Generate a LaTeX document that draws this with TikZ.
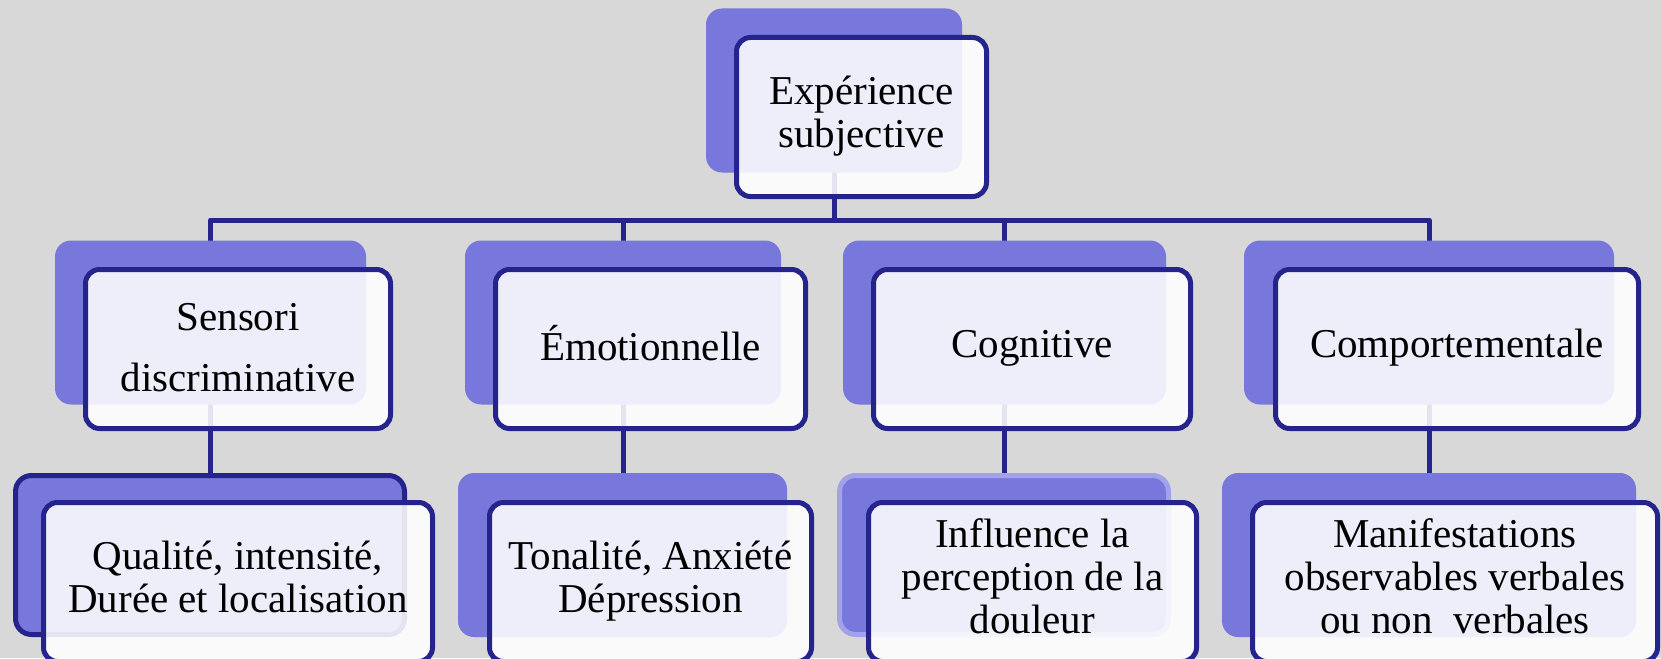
\documentclass[tikz,border=0pt]{standalone}
\usepackage{fontspec}
\setmainfont{Liberation Serif}
\usetikzlibrary{backgrounds}
\definecolor{navy}{RGB}{36,36,140}
\definecolor{lilac}{RGB}{120,120,220}
\definecolor{lilacline}{RGB}{162,162,232}
\definecolor{paper}{RGB}{216,216,216}
\begin{document}
\begin{tikzpicture}[x=1pt,y=-1pt,
  conn/.style={draw=navy, line width=5pt, line join=round},
  backbox/.style={fill=lilac, rounded corners=16pt, inner sep=0pt, minimum height=164pt},
  frontbox/.style={draw=navy, line width=5pt, fill=white, fill opacity=0.88, text opacity=1,
    rounded corners=14pt, inner sep=0pt, minimum height=159pt, align=center,
    font=\fontsize{41}{43}\selectfont, text=black},
]
\useasboundingbox (0,0) rectangle (1661,658);
\clip (0,0) rectangle (1661,658);

% back plates
\node[backbox, minimum width=256pt] (tb) at (834,90.5) {};
\node[backbox, minimum width=311pt] (b1) at (210.5,322.5) {};
\node[backbox, minimum width=316pt] (b2) at (623,322.5) {};
\node[backbox, minimum width=323pt] (b3) at (1004.5,322.5) {};
\node[backbox, minimum width=370pt] (b4) at (1429,322.5) {};
\node[backbox, draw=navy, line width=5pt, minimum width=389pt, minimum height=159pt] (c1) at (210,555) {};
\node[backbox, minimum width=329pt] (c2) at (622.5,555) {};
\node[backbox, draw=lilacline, line width=5pt, minimum width=329pt, minimum height=159pt] (c3) at (1004,555) {};
\node[backbox, minimum width=414pt] (c4) at (1429,555) {};

% front boxes with the texts
\node[frontbox, minimum width=250pt] (t) at (861.5,117) {\strut Expérience\\\strut subjective};
\node[frontbox, minimum width=305pt] (f1) at (238,349) {\rule{0pt}{36pt}Sensori\\[18pt]\strut discriminative};
\node[frontbox, minimum width=310pt] (f2) at (650.5,349) {\strut Émotionnelle};
\node[frontbox, minimum width=317pt] (f3) at (1032,349) {\strut Cognitive};
\node[frontbox, minimum width=363pt] (f4) at (1457,349) {\strut Comportementale};
\node[frontbox, minimum width=389pt] (g1) at (238,582) {\strut Qualité, intensité,\\\strut Durée et localisation};
\node[frontbox, minimum width=322pt] (g2) at (650.5,582) {\strut Tonalité, Anxiété\\\strut Dépression};
\node[frontbox, minimum width=328pt] (g3) at (1032.5,582) {\strut Influence la\\\strut perception de la\\\strut douleur};
\node[frontbox, minimum width=405pt] (g4) at (1455,582) {\strut Manifestations\\\strut observables verbales\\\strut ou non\ \ verbales};

\coordinate (bus) at (834,220);

\begin{scope}[on background layer]
  \fill[paper] (0,0) rectangle (1661,658);
  \draw[conn] (tb.center) -- (tb.center |- bus);
  \draw[conn] (b1.center) -- (b1.center |- bus) -- (b4.center |- bus) -- (b4.center);
  \draw[conn] (b2.center) -- (b2.center |- bus);
  \draw[conn] (b3.center) -- (b3.center |- bus);
  \draw[conn] (b1.center) -- (b1.center |- c1.center);
  \draw[conn] (b2.center) -- (b2.center |- c2.center);
  \draw[conn] (b3.center) -- (b3.center |- c3.center);
  \draw[conn] (b4.center) -- (b4.center |- c4.center);
\end{scope}
\end{tikzpicture}
\end{document}
